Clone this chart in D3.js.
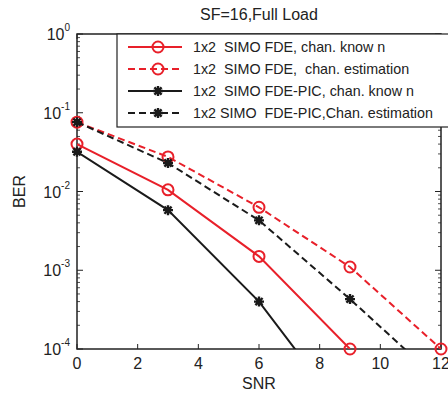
<!DOCTYPE html>
<html>
<head>
<meta charset="utf-8">
<script src="https://cdn.jsdelivr.net/npm/d3@7"></script>
<style>
  body { margin: 0; background: #fff; }
  text { font-family: "Liberation Sans", Arial, sans-serif; white-space: pre; }
</style>
</head>
<body>
<div id="wrapper"></div>
<script>
const snr = [0, 3, 6, 9, 12]
const fdeKnown = [0.040, 0.0105, 0.0015, 0.0001]
const fdeEst = [0.076, 0.0275, 0.0063, 0.0011, 0.0001]
const picKnown = [0.032, 0.0058, 0.0004, 0.000012]
const picEst = [0.076, 0.023, 0.0043, 0.00043, 0.000038]
const xTicks = [0, 2, 4, 6, 8, 10, 12]
const yExponents = [0, -1, -2, -3, -4]

const series = [
  { name: "1x2  SIMO FDE, chan. know n", values: fdeKnown, color: "#e8202a", dash: null, marker: "circle" },
  { name: "1x2  SIMO FDE,  chan. estimation", values: fdeEst, color: "#e8202a", dash: "7,4", marker: "circle" },
  { name: "1x2  SIMO FDE-PIC, chan. know n", values: picKnown, color: "#1a1a1a", dash: null, marker: "star" },
  { name: "1x2 SIMO  FDE-PIC,Chan. estimation", values: picEst, color: "#1a1a1a", dash: "7,4", marker: "star" },
]

const dimensions = {
  width: 448,
  height: 393,
  margin: { top: 34, right: 7, bottom: 44, left: 77 },
}
dimensions.boundedWidth = dimensions.width - dimensions.margin.left - dimensions.margin.right
dimensions.boundedHeight = dimensions.height - dimensions.margin.top - dimensions.margin.bottom

const svg = d3.select("#wrapper").append("svg")
  .attr("width", dimensions.width)
  .attr("height", dimensions.height)

const bounds = svg.append("g")
  .attr("transform", `translate(${dimensions.margin.left},${dimensions.margin.top})`)

const xScale = d3.scaleLinear().domain([0, 12]).range([0, dimensions.boundedWidth])
const yScale = d3.scaleLog().domain([1e-4, 1]).range([dimensions.boundedHeight, 0])

svg.append("defs").append("clipPath").attr("id", "clip")
  .append("rect").attr("width", dimensions.boundedWidth).attr("height", dimensions.boundedHeight)

// axes frame with inward ticks
const minor = []
for (let e = -4; e < 0; e++) for (let k = 2; k <= 9; k++) minor.push(k * Math.pow(10, e))

const axisColor = "#222"
const frame = bounds.append("g")
frame.append("rect")
  .attr("width", dimensions.boundedWidth).attr("height", dimensions.boundedHeight)
  .attr("fill", "none").attr("stroke", axisColor).attr("stroke-width", 1.5)

xTicks.forEach(t => {
  const x = xScale(t)
  frame.append("line").attr("x1", x).attr("x2", x).attr("y1", dimensions.boundedHeight).attr("y2", dimensions.boundedHeight - 5).attr("stroke", axisColor)
  frame.append("line").attr("x1", x).attr("x2", x).attr("y1", 0).attr("y2", 5).attr("stroke", axisColor)
  bounds.append("text").attr("x", x).attr("y", dimensions.boundedHeight + 20)
    .attr("text-anchor", "middle").attr("font-size", 16).attr("fill", "#222").text(t)
})

yExponents.forEach(e => {
  const y = yScale(Math.pow(10, e))
  frame.append("line").attr("x1", 0).attr("x2", 6).attr("y1", y).attr("y2", y).attr("stroke", axisColor)
  frame.append("line").attr("x1", dimensions.boundedWidth).attr("x2", dimensions.boundedWidth - 6).attr("y1", y).attr("y2", y).attr("stroke", axisColor)
  const label = bounds.append("text").attr("x", -7).attr("y", y + 6)
    .attr("text-anchor", "end").attr("font-size", 16).attr("fill", "#222")
  label.append("tspan").text("10")
  label.append("tspan").attr("dy", -9).attr("font-size", 10).text(e)
})

minor.forEach(v => {
  const y = yScale(v)
  frame.append("line").attr("x1", 0).attr("x2", 3).attr("y1", y).attr("y2", y).attr("stroke", axisColor).attr("stroke-width", 0.8)
  frame.append("line").attr("x1", dimensions.boundedWidth).attr("x2", dimensions.boundedWidth - 3).attr("y1", y).attr("y2", y).attr("stroke", axisColor).attr("stroke-width", 0.8)
})

// title and labels
svg.append("text").attr("x", dimensions.margin.left + dimensions.boundedWidth / 2).attr("y", 20)
  .attr("text-anchor", "middle").attr("font-size", 16).attr("fill", "#222").text("SF=16,Full Load")
svg.append("text").attr("x", dimensions.margin.left + dimensions.boundedWidth / 2).attr("y", 389)
  .attr("text-anchor", "middle").attr("font-size", 16).attr("fill", "#222").text("SNR")
svg.append("text").attr("transform", `translate(25,${dimensions.margin.top + dimensions.boundedHeight / 2}) rotate(-90)`)
  .attr("text-anchor", "middle").attr("font-size", 16).attr("fill", "#222").text("BER")

// lines
const line = d3.line()
  .x(d => xScale(d.x))
  .y(d => yScale(d.y))

const asterisk = "M-5,0L5,0M0,-5L0,5M-3.6,-3.6L3.6,3.6M-3.6,3.6L3.6,-3.6"

function drawMarker(g, s, x, y) {
  if (s.marker === "circle") {
    g.append("circle").attr("cx", x).attr("cy", y).attr("r", 5.5)
      .attr("fill", "none").attr("stroke", s.color).attr("stroke-width", 2)
  } else {
    g.append("path").attr("d", asterisk).attr("transform", `translate(${x},${y})`)
      .attr("stroke", s.color).attr("stroke-width", 2.4).attr("fill", "none")
  }
}

const plot = bounds.append("g")
series.forEach(s => {
  const pts = s.values.map((v, i) => ({ x: snr[i], y: v }))
  plot.append("path").datum(pts)
    .attr("clip-path", "url(#clip)")
    .attr("d", line)
    .attr("fill", "none")
    .attr("stroke", s.color)
    .attr("stroke-width", 2)
    .attr("stroke-dasharray", s.dash)
  pts.filter(d => d.y >= 1e-4).forEach(d => drawMarker(plot, s, xScale(d.x), yScale(d.y)))
})

// legend
const legend = svg.append("g").attr("transform", "translate(117,34)")
legend.append("rect").attr("width", 340).attr("height", 93)
  .attr("fill", "#fff").attr("stroke", axisColor).attr("stroke-width", 1.2)
series.forEach((s, i) => {
  const y = 13 + i * 22
  legend.append("line").attr("x1", 11).attr("x2", 65).attr("y1", y).attr("y2", y)
    .attr("stroke", s.color).attr("stroke-width", 2).attr("stroke-dasharray", s.dash)
  drawMarker(legend, s, 41, y)
  legend.append("text").attr("x", 76).attr("y", y + 5).attr("font-size", 14.3).attr("fill", "#222").text(s.name)
})
</script>
</body>
</html>
